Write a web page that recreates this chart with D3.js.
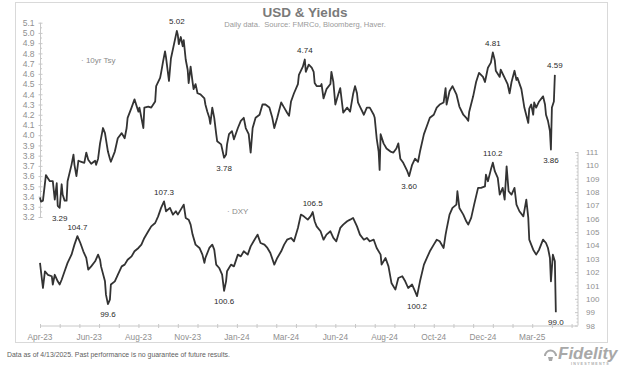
<!DOCTYPE html>
<html>
<head>
<meta charset="utf-8">
<script src="https://cdn.jsdelivr.net/npm/d3@7"></script>
<style>
  html, body { margin: 0; padding: 0; background: #fff; }
  svg { display: block; font-family: "Liberation Sans", Arial, sans-serif; }
</style>
</head>
<body>
<svg id="chart" width="624" height="368"></svg>
<script>
// ---- DATA (x = trading-day index from 13-Apr-2023) ----
const xTickLabels = ["Apr-23","Jun-23","Aug-23","Nov-23","Jan-24","Mar-24","Jun-24","Aug-24","Oct-24","Dec-24","Mar-25"];
const xLabelEvery = 50;
const xAxisEnd = 546;

const tsyLeftTicks = [3.2,3.3,3.4,3.5,3.6,3.7,3.8,3.9,4.0,4.1,4.2,4.3,4.4,4.5,4.6,4.7,4.8,4.9,5.0,5.1];
const dxyRightTicks = [98,99,100,101,102,103,104,105,106,107,108,109,110,111];

const tsy10 = [
[0,3.39],[1,3.35],[3,3.36],[6,3.61],[8,3.58],[10,3.55],[13,3.55],[15,3.37],[17,3.53],[18,3.31],[20,3.29],[22,3.52],[23,3.42],[25,3.36],[27,3.36],[28,3.55],[32,3.71],[34,3.81],[35,3.71],[37,3.60],[39,3.75],[42,3.74],[45,3.73],[47,3.83],[49,3.76],[52,3.72],[56,3.75],[57,3.71],[59,3.77],[61,3.92],[64,4.07],[66,4.02],[69,3.84],[71,3.77],[72,3.74],[76,3.84],[79,3.97],[83,4.02],[86,3.97],[88,4.07],[89,4.17],[93,4.27],[96,4.35],[100,4.23],[101,4.27],[105,4.07],[106,4.27],[110,4.28],[113,4.27],[117,4.33],[118,4.48],[122,4.56],[123,4.61],[125,4.72],[127,4.82],[128,4.76],[131,4.53],[133,4.75],[137,4.93],
[139,5.02],[140,4.98],[141,4.89],[143,4.96],[145,4.87],[146,4.93],[148,4.74],[150,4.64],[151,4.51],[153,4.67],[155,4.52],[156,4.45],[158,4.50],[160,4.41],[163,4.40],[167,4.36],[168,4.30],[170,4.23],[172,4.17],[173,4.11],[175,4.27],[177,4.17],[179,4.01],[180,3.94],[184,3.91],[187,3.78],[189,3.81],[190,3.91],[192,4.01],[195,4.04],[197,3.96],[201,4.07],[204,4.14],[207,4.17],[209,4.07],[212,4.01],[214,3.83],[216,4.07],[219,4.17],[223,4.20],[226,4.30],[229,4.30],[233,4.27],[236,4.17],[238,4.07],[241,4.17],[245,4.32],[248,4.27],[251,4.22],[253,4.19],[255,4.33],[258,4.41],[262,4.50],[263,4.59],[267,4.67],[269,4.74],[270,4.62],[273,4.69],[276,4.66],
[278,4.62],[279,4.51],[281,4.48],[285,4.48],[286,4.50],[288,4.36],[291,4.45],[295,4.50],[296,4.62],[298,4.52],[300,4.30],[303,4.40],[305,4.46],[307,4.30],[308,4.22],[312,4.27],[315,4.23],[318,4.40],[320,4.48],[322,4.41],[323,4.32],[325,4.28],[329,4.20],[332,4.27],[335,4.27],[339,4.20],[340,4.17],[342,3.97],[344,3.84],[345,3.66],[346,4.01],[349,3.92],[352,3.87],[356,3.84],[359,3.83],[362,3.87],[364,3.92],[366,3.77],[369,3.73],[373,3.65],[375,3.60],[378,3.71],[381,3.77],[384,3.74],[386,3.84],[390,4.01],[393,4.09],[396,4.17],[400,4.20],[403,4.27],[406,4.30],[410,4.32],[412,4.46],[413,4.30],
[416,4.43],[419,4.48],[423,4.40],[426,4.28],[430,4.20],[433,4.17],[435,4.14],[436,4.23],[440,4.38],[443,4.52],[446,4.61],[450,4.57],[452,4.52],[455,4.66],[458,4.71],[460,4.81],[462,4.73],[463,4.63],[467,4.57],[468,4.64],[472,4.56],[475,4.50],[477,4.41],[479,4.52],[482,4.63],[484,4.54],[485,4.56],[489,4.45],[491,4.33],[492,4.27],[496,4.12],[497,4.26],[499,4.30],[501,4.20],[502,4.32],[504,4.27],[507,4.33],[511,4.38],[513,4.30],[514,4.20],[516,4.14],[518,4.04],[519,3.86],[520,4.27],[522,4.33],[523,4.59]
];

const dxy = [
[0,102.69],[1,102.06],[3,100.81],[5,102.06],[8,101.8],[12,101.69],[13,101.07],[15,101.8],[18,101.31],[20,101.07],[22,101.43],[25,102.06],[28,102.69],[32,103.31],[35,104.06],[38,104.7],[41,104.18],[44,103.56],[47,103.06],[49,102.18],[52,102.43],[56,102.81],[59,103.31],[61,102.93],[62,102.43],[66,101.31],[67,100.31],[69,99.6],[71,99.94],[72,101.07],[76,101.31],[79,101.8],[83,102.43],[86,102.56],[89,102.93],[93,103.18],[96,103.56],[100,103.81],[103,104.06],[106,104.56],[110,105.06],[113,105.43],[117,105.68],[120,106.18],[123,106.81],[126,107.3],[128,106.56],[132,106.81],[135,106.31],[138,106.56],
[140,106.31],[143,106.68],[146,107.06],[148,106.06],[151,105.93],[153,105.56],[155,104.81],[158,104.06],[162,103.81],[165,103.31],[167,102.69],[168,103.06],[172,103.81],[175,104.06],[177,103.68],[179,102.56],[182,102.31],[185,101.81],[187,100.6],[189,101.31],[190,102.06],[194,102.56],[197,102.43],[201,103.31],[204,103.18],[207,103.56],[211,103.31],[214,103.93],[217,104.31],[221,104.81],[224,104.18],[228,104.06],[231,103.81],[234,103.43],[238,102.56],[241,103.06],[245,103.56],[248,104.06],[251,104.43],[255,104.56],[258,104.31],[262,105.31],[265,106.31],[268,106.18],[272,105.93],[275,106.2],
[277,106.5],[279,105.81],[281,105.43],[285,105.06],[288,104.43],[291,104.81],[295,105.06],[298,104.56],[301,104.31],[305,105.31],[308,105.56],[312,105.81],[315,105.93],[318,106.06],[322,105.43],[325,104.81],[329,104.43],[332,104.56],[335,104.31],[339,104.43],[342,103.81],[346,103.31],[347,102.56],[351,103.06],[354,102.43],[357,101.19],[361,100.69],[364,101.56],[368,101.69],[371,101.31],[374,100.81],[378,101.07],[381,100.56],[383,100.2],[386,101.31],[390,102.56],[393,103.06],[396,103.56],[400,104.06],[403,104.43],[406,104.31],[410,103.81],[412,104.81],[413,105.2],
[416,106.31],[419,106.81],[423,107.06],[424,108.06],[426,106.81],[430,106.31],[433,105.81],[435,105.56],[438,106.06],[441,107.06],[445,108.31],[448,108.31],[452,108.43],[453,109.3],[455,108.81],[458,109.68],[460,110.2],[462,109.56],[465,109.06],[467,107.81],[470,108.31],[472,107.43],[474,109.93],[476,108.06],[479,107.81],[482,108.31],[484,107.06],[487,106.56],[491,106.18],[494,107.43],[496,106.06],[497,104.43],[501,103.68],[504,103.31],[507,103.68],[511,104.43],[514,104.18],[516,103.81],[518,103.06],[519,101.31],[521,103.31],[523,102.81],[524,99.0]
];

// annotations: [index, value, text, position]
const tsyNotes = [[139,5.02,"5.02","above"],[269,4.74,"4.74","above"],[460,4.81,"4.81","above"],[523,4.59,"4.59","above"],
                  [20,3.29,"3.29","below"],[187,3.78,"3.78","below"],[375,3.60,"3.60","below"],[519,3.86,"3.86","below"]];
const dxyNotes = [[38,104.7,"104.7","above"],[126,107.3,"107.3","above"],[277,106.5,"106.5","above"],[460,110.2,"110.2","above"],
                  [69,99.6,"99.6","below"],[187,100.6,"100.6","below"],[383,100.2,"100.2","below"],[524,99.0,"99.0","below"]];

// ---- DRAWING ----
const svg = d3.select("#chart");
const FONT = '"Liberation Sans", Arial, sans-serif';

svg.append("rect").attr("x",15.5).attr("y",2.5).attr("width",592).attr("height",340)
  .attr("fill","#fff").attr("stroke","#d9d9d9").attr("stroke-width",1);

const x = d3.scaleLinear().domain([0, xAxisEnd]).range([40, 577.5]);
const yL = d3.scaleLinear().domain([3.2, 5.1]).range([217, 22.7]);
const yR = d3.scaleLinear().domain([98, 111]).range([325.5, 152]);

const axisColor = "#c8c8c8";
const labelColor = "#8f8f8f";

// Left axis
const gL = svg.append("g").attr("transform","translate(40.5,0)");
gL.call(d3.axisLeft(yL).tickValues(tsyLeftTicks).tickFormat(d3.format(".1f")).tickSize(3).tickPadding(4));
gL.select(".domain").attr("stroke",axisColor).attr("d",`M0,${yL(3.2)}V${yL(5.1)}`);
gL.selectAll(".tick line").attr("stroke",axisColor).attr("x1",-2).attr("x2",2);
gL.selectAll(".tick text").attr("fill",labelColor).attr("font-size","8.5px").attr("font-family",FONT).attr("x",-6);
gL.append("g").selectAll("line").data(d3.range(3.25,5.1,0.1)).join("line")
  .attr("x1",0).attr("x2",1.5).attr("y1",d=>yL(d)).attr("y2",d=>yL(d)).attr("stroke",axisColor);

// Right axis
const gR = svg.append("g").attr("transform","translate(578,0)");
gR.call(d3.axisRight(yR).tickValues(dxyRightTicks).tickFormat(d3.format("d")).tickSize(3).tickPadding(5));
gR.select(".domain").attr("stroke",axisColor).attr("d",`M0,${yR(98)}V${yR(111)}`);
gR.selectAll(".tick line").attr("stroke",axisColor).attr("x1",-3).attr("x2",0);
gR.selectAll(".tick text").attr("fill",labelColor).attr("font-size","8px").attr("font-family",FONT);
gR.append("g").selectAll("line").data(d3.range(98.25,111,0.25).filter(v=>Math.abs(v-Math.round(v))>0.01)).join("line")
  .attr("x1",-1.5).attr("x2",0).attr("y1",d=>yR(d)).attr("y2",d=>yR(d)).attr("stroke",axisColor);

// X axis
const gX = svg.append("g").attr("transform","translate(0,326)");
gX.call(d3.axisBottom(x).tickValues(d3.range(0, xAxisEnd, 20)).tickFormat("").tickSize(2));
gX.select(".domain").attr("stroke",axisColor).attr("d",`M${x(0)},0H${x(xAxisEnd)}`);
gX.selectAll(".tick line").attr("stroke",axisColor).attr("y1",-2).attr("y2",2);
gX.append("g").selectAll("text").data(xTickLabels).join("text")
  .attr("x",(d,i)=>x(i*xLabelEvery)).attr("y",339.5-326)
  .attr("text-anchor","middle").attr("fill",labelColor).attr("font-size","8.3px").attr("font-family",FONT)
  .text(d=>d);

// Lines
const lineL = d3.line().x(d=>x(d[0])).y(d=>yL(d[1]));
const lineR = d3.line().x(d=>x(d[0])).y(d=>yR(d[1]));
svg.append("path").datum(tsy10).attr("d",lineL).attr("fill","none").attr("stroke","#333").attr("stroke-width",1.8).attr("stroke-linejoin","round");
svg.append("path").datum(dxy).attr("d",lineR).attr("fill","none").attr("stroke","#333").attr("stroke-width",1.8).attr("stroke-linejoin","round");

// Annotations
function notes(arr, yScale){
  svg.append("g").selectAll("text").data(arr).join("text")
    .attr("x",d=>x(d[0]))
    .attr("y",d=>d[3]==="above" ? yScale(d[1]) - 6.5 : yScale(d[1]) + 13)
    .attr("text-anchor","middle").attr("fill","#2a2a2a").attr("font-size","8px").attr("font-family",FONT)
    .text(d=>d[2]);
}
notes(tsyNotes, yL);
notes(dxyNotes, yR);

// Series labels
svg.append("text").attr("x",81).attr("y",63).attr("fill","#8a8a8a").attr("font-size","8px").attr("font-family",FONT).text("· 10yr Tsy");
svg.append("text").attr("x",227).attr("y",214).attr("fill","#8a8a8a").attr("font-size","8px").attr("font-family",FONT).text("· DXY");

// Title
svg.append("text").attr("x",305).attr("y",16.5).attr("text-anchor","middle").attr("fill","#7a7a7a")
  .attr("font-size","13.5px").attr("font-weight","bold").attr("font-family",FONT).text("USD & Yields");
svg.append("text").attr("x",305).attr("y",27).attr("text-anchor","middle").attr("fill","#9a9a9a")
  .attr("font-size","7.6px").attr("font-family",FONT).attr("xml:space","preserve").text("Daily data.  Source: FMRCo, Bloomberg, Haver.");

// Footer
svg.append("text").attr("x",7).attr("y",357).attr("fill","#606060").attr("font-size","6.9px").attr("font-family",FONT)
  .text("Data as of 4/13/2025. Past performance is no guarantee of future results.");

// Fidelity logo (text)
const logo = svg.append("g");
logo.append("path").attr("d","M544,356 a6.5,6.5 0 1,1 13,0 l-2,0 a4.5,4.5 0 0,0 -9,0 z M548,357 l5,0 l-1,4 l-3,0 z")
  .attr("fill","#a8a8a8");
logo.append("text").attr("x",558).attr("y",359).attr("fill","#a8a8a8").attr("font-size","17px")
  .attr("font-weight","bold").attr("font-style","italic").attr("font-family",FONT).text("Fidelity");
logo.append("text").attr("x",571).attr("y",365).attr("fill","#b0b0b0").attr("font-size","3.6px")
  .attr("font-weight","bold").attr("letter-spacing","1.2px").attr("font-family",FONT).text("INVESTMENTS");
</script>
</body>
</html>
